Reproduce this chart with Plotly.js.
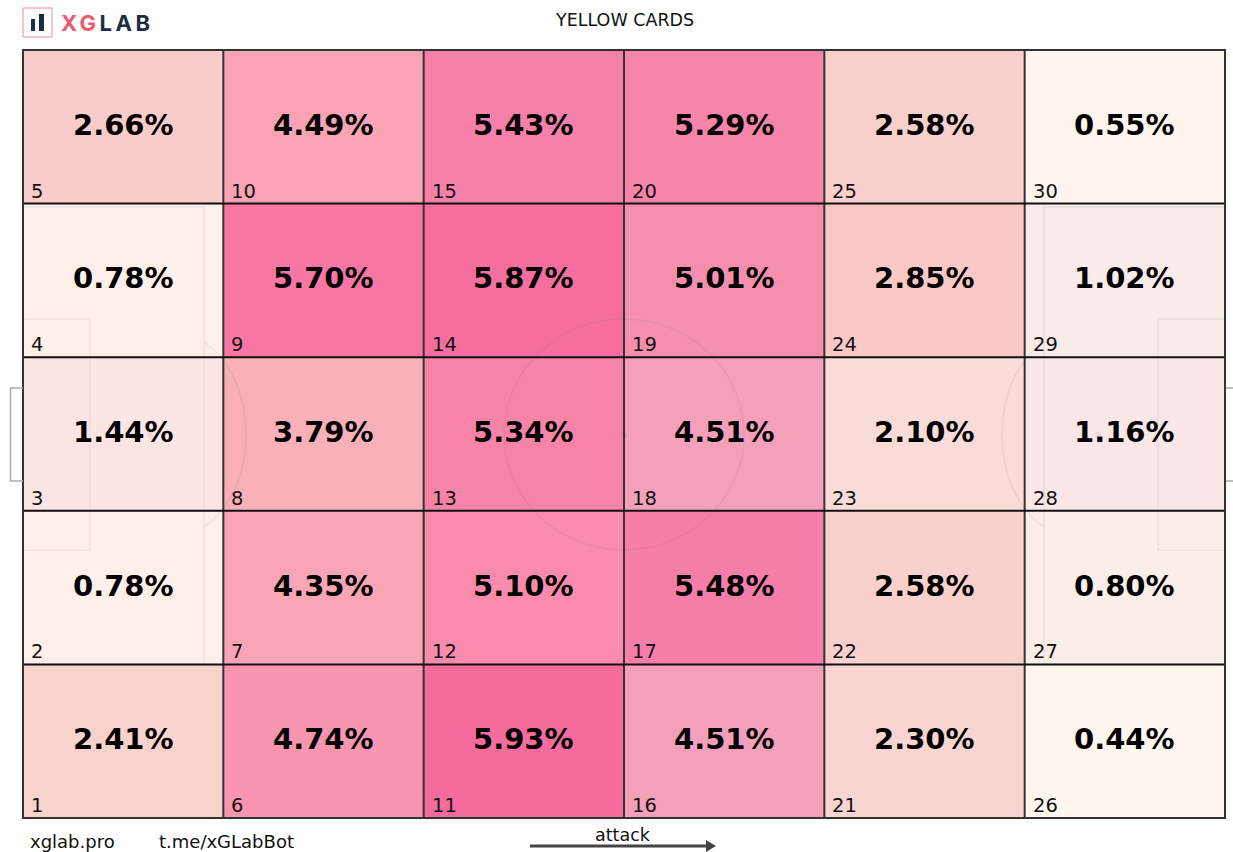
<!DOCTYPE html>
<html><head><meta charset="utf-8">
<script src="https://cdn.plot.ly/plotly-3.0.1.min.js"></script>
<style>html,body{margin:0;padding:0;background:#fff}#c{width:1233px;height:852px}</style>
</head><body><div id="c"></div>
<script>
// Zone shares 1..30, zones run bottom to top, then left to right
const zoneValues = [2.41,0.78,1.44,0.78,2.66, 4.74,4.35,3.79,5.70,4.49, 5.93,5.10,5.34,5.87,5.43,
                    4.51,5.48,4.51,5.01,5.29, 2.30,2.58,2.10,2.85,2.58, 0.44,0.80,1.16,1.02,0.55];
const colNames = [0,1,2,3,4,5];
const rowNames = [0,1,2,3,4];
const chartTitle = 'YELLOW CARDS';
const footerLeft = 'xglab.pro';
const footerMid = 't.me/xGLabBot';
const attackLabel = 'attack';

const W=1233,H=852,L=23,R=1225,T=50,B=818;
const vmin=0.44,vmax=5.93;
const stops=[[0.44,'#fff6f0'],[0.55,'#fff5ee'],[0.78,'#feefea'],[0.80,'#faeee9'],[1.02,'#f8ebe9'],[1.16,'#fbe7e8'],[1.44,'#fde5e5'],[2.10,'#f9dcd8'],[2.30,'#f9d5d2'],[2.41,'#f9d2cc'],[2.58,'#f9d0cc'],[2.66,'#facbcb'],
 [2.85,'#fbc9c5'],[3.79,'#f9b0b8'],[4.35,'#f9a5b5'],[4.49,'#f9a3b5'],[4.51,'#f5a0bb'],[4.74,'#f995b0'],[5.01,'#f68fae'],[5.10,'#fa8bac'],[5.29,'#f785a9'],[5.43,'#f680aa'],[5.70,'#f876a4'],[5.93,'#f56b9d']];
const colorscale=stops.map(s=>[(s[0]-vmin)/(vmax-vmin),s[1]]);

const z=rowNames.map(r=>colNames.map(c=>zoneValues[c*5+r]));
const xc=colNames.map(c=>c+0.5), yc=rowNames.map(r=>r+0.5);
const trace={type:'heatmap',x:xc,y:yc,z:z,zmin:vmin,zmax:vmax,colorscale:colorscale,showscale:false,hoverinfo:'skip'};

const px=x=>(x-L)/(R-L)*6, py=y=>(B-y)/(B-T)*5;
const paperX=x=>(x-L)/(R-L), paperY=y=>(B-y)/(B-T);
const faint='rgba(110,110,110,0.10)';
const shapes=[];
function rect(x0,y0,x1,y1){shapes.push({type:'rect',xref:'x',yref:'y',x0:px(x0),x1:px(x1),y0:py(y0),y1:py(y1),line:{color:faint,width:1.5},layer:'above'});}
rect(23,207,204,664); rect(23,319,90,550); rect(1044,207,1225,664); rect(1158,319,1225,550);
shapes.push({type:'circle',xref:'x',yref:'y',x0:px(504),x1:px(744),y0:py(319),y1:py(550),line:{color:faint,width:1.5},layer:'above'});
function arc(x,bx){shapes.push({type:'path',xref:'x',yref:'y',
  path:`M${px(x)},${py(342)} C${px(bx)},${py(380)} ${px(bx)},${py(489)} ${px(x)},${py(527)}`,line:{color:faint,width:1.5},layer:'above'});}
arc(204,260); arc(1044,988);
[[150,435],[624,435],[1098,435]].forEach(p=>shapes.push({type:'circle',xref:'x',yref:'y',x0:px(p[0]-3),x1:px(p[0]+3),y0:py(p[1]-3),y1:py(p[1]+3),fillcolor:'rgba(110,110,110,0.12)',line:{width:0},layer:'above'}));
// grid
colNames.slice(1).forEach(c=>shapes.push({type:'line',xref:'x',yref:'y',x0:c,x1:c,y0:0,y1:5,line:{color:'#333',width:2},layer:'above'}));
rowNames.slice(1).forEach(r=>shapes.push({type:'line',xref:'x',yref:'y',x0:0,x1:6,y0:r,y1:r,line:{color:'#111',width:2},layer:'above'}));
shapes.push({type:'rect',xref:'paper',yref:'paper',x0:0,x1:1,y0:0,y1:1,line:{color:'#333',width:2},layer:'above'});
// goals
shapes.push({type:'path',xref:'paper',yref:'paper',path:`M${paperX(23)},${paperY(388)} L${paperX(10.5)},${paperY(388)} L${paperX(10.5)},${paperY(481)} L${paperX(23)},${paperY(481)}`,line:{color:'#aaa',width:1.5}});
shapes.push({type:'path',xref:'paper',yref:'paper',path:`M${paperX(1226)},${paperY(388)} L${paperX(1233)},${paperY(388)} M${paperX(1226)},${paperY(481)} L${paperX(1233)},${paperY(481)}`,line:{color:'#aaa',width:1.5}});
// logo
shapes.push({type:'rect',xref:'paper',yref:'paper',x0:paperX(23),x1:paperX(52),y0:paperY(8),y1:paperY(37),line:{color:'#ef8b98',width:1},fillcolor:'#fff'});
shapes.push({type:'rect',xref:'paper',yref:'paper',x0:paperX(31),x1:paperX(35),y0:paperY(19),y1:paperY(31),line:{width:0},fillcolor:'#1d2d44'});
shapes.push({type:'rect',xref:'paper',yref:'paper',x0:paperX(39),x1:paperX(44),y0:paperY(14),y1:paperY(31),line:{width:0},fillcolor:'#1d2d44'});
// attack arrow
shapes.push({type:'line',xref:'paper',yref:'paper',x0:paperX(530),x1:paperX(710),y0:paperY(846),y1:paperY(846),line:{color:'#444',width:3}});
shapes.push({type:'path',xref:'paper',yref:'paper',path:`M${paperX(706)},${paperY(840)} L${paperX(716)},${paperY(846)} L${paperX(706)},${paperY(852)} Z`,fillcolor:'#444',line:{width:0}});

const F='DejaVu Sans';
const ann=[];
colNames.forEach(c=>rowNames.forEach(r=>{
  const zone=c*5+r+1, v=zoneValues[zone-1];
  ann.push({xref:'x',yref:'y',x:c+0.5,y:r+0.5,text:v.toFixed(2)+'%',showarrow:false,yshift:2,
    font:{family:F,size:29,color:'#000',weight:700}});
  ann.push({xref:'x',yref:'y',x:c,y:r,text:String(zone),showarrow:false,xanchor:'left',yanchor:'bottom',xshift:6,yshift:-1,
    font:{family:F,size:19.5,color:'#111'}});
}));
function pageText(text,x,y,size,anchor,color,family,weight){
  ann.push({xref:'paper',yref:'paper',x:paperX(x),y:paperY(y),text:text,showarrow:false,xanchor:anchor,yanchor:'middle',
    font:{family:family||F,size:size,color:color||'#111',weight:weight||400}});
}
pageText(chartTitle,624,20,17.5,'center','#111');
pageText(footerLeft,28,841,18,'left','#111');
pageText(footerMid,157,841,18,'left','#111');
pageText(attackLabel,623,835,17.5,'center','#111');
pageText('<span style="letter-spacing:3.5px"><span style="color:#ef5a6f">XG</span><span style="color:#1d2d44">LAB</span></span>',59,23,22,'left','#1d2d44','Inter',700);

Plotly.newPlot('c',[trace],{
  width:W,height:H,margin:{l:L,r:W-R,t:T,b:H-B,pad:0},
  paper_bgcolor:'#fff',plot_bgcolor:'#fff',showlegend:false,
  xaxis:{range:[0,6],showgrid:false,zeroline:false,showticklabels:false,ticks:'',fixedrange:true},
  yaxis:{range:[0,5],showgrid:false,zeroline:false,showticklabels:false,ticks:'',fixedrange:true},
  shapes:shapes,annotations:ann
},{displayModeBar:false,staticPlot:true});
</script></body></html>
